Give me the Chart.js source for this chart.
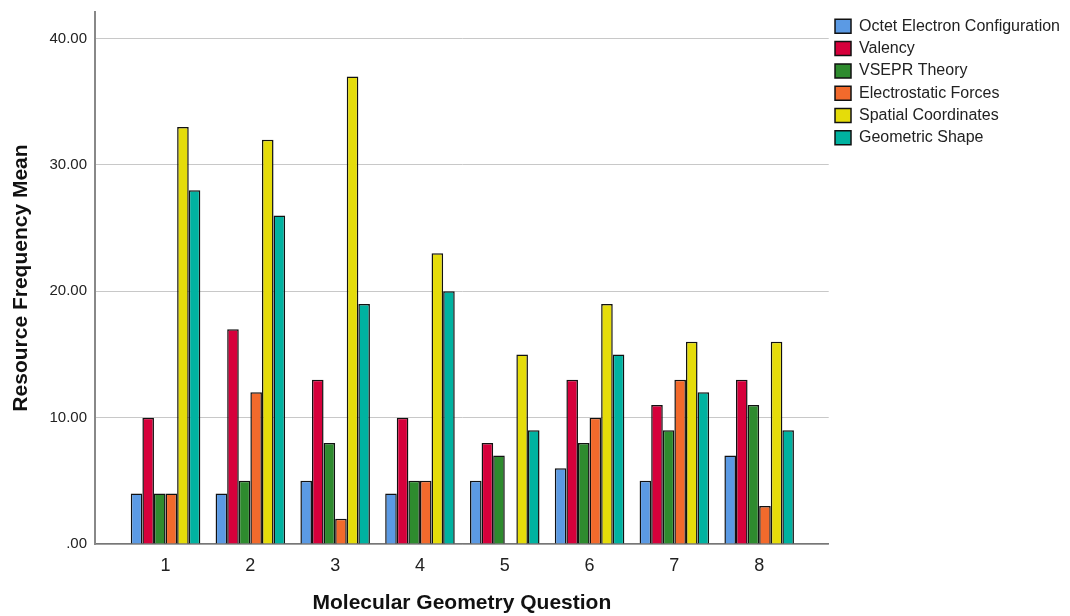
<!DOCTYPE html>
<html>
<head>
<meta charset="utf-8">
<script src="https://cdn.jsdelivr.net/npm/chart.js@4/dist/chart.umd.min.js"></script>
<style>
  html, body { margin: 0; padding: 0; background: #fff; }
  #wrap { width: 1070px; height: 616px; }
</style>
</head>
<body>
<div id="wrap"><canvas id="chart"></canvas></div>
<script>
// 設問番号
const questions = [1, 2, 3, 4, 5, 6, 7, 8];

// 各リソースの平均頻度
const octet = [4, 4, 5, 4, 5, 6, 5, 7];
const valency = [10, 17, 13, 10, 8, 13, 11, 13];
const vsepr = [4, 5, 8, 5, 7, 8, 9, 11];
const electrostatic = [4, 12, 2, 5, 0, 10, 13, 3];
const spatial = [33, 32, 37, 23, 15, 19, 16, 16];
const geometric = [28, 26, 19, 20, 9, 15, 12, 9];

const yTicks = [0, 10, 20, 30, 40];

const FONT = 'Arial, "Liberation Sans", sans-serif';

function ds(label, data, color) {
  return {
    label,
    data,
    backgroundColor: color,
    borderColor: '#111',
    borderWidth: 1.5,
    categoryPercentage: 0.82,
    barPercentage: 1.0
  };
}

const ctx = document.getElementById('chart').getContext('2d');
new Chart(ctx, {
  type: 'bar',
  data: {
    labels: questions,
    datasets: [
      ds('Octet Electron Configuration', octet, '#5b9ae4'),
      ds('Valency', valency, '#d6003b'),
      ds('VSEPR Theory', vsepr, '#2e8b2e'),
      ds('Electrostatic Forces', electrostatic, '#f26a2c'),
      ds('Spatial Coordinates', spatial, '#e5dc0a'),
      ds('Geometric Shape', geometric, '#00b2a0')
    ]
  },
  options: {
    responsive: true,
    maintainAspectRatio: false,
    animation: false,
    layout: { padding: { top: 12, left: 0, right: 0, bottom: 0 } },
    plugins: {
      legend: {
        position: 'right',
        align: 'start',
        labels: {
          boxWidth: 16,
          boxHeight: 14,
          padding: 6.3,
          color: '#222',
          font: { family: FONT, size: 16 }
        }
      },
      tooltip: { enabled: false }
    },
    scales: {
      x: {
        type: 'linear',
        offset: false,
        min: 0.168,
        max: 8.82,
        grid: { display: false, drawTicks: false },
        border: { display: true, color: '#777', width: 1.5 },
        afterBuildTicks: scale => { scale.ticks = questions.map(v => ({ value: v })); },
        afterFit: scale => {
          scale.height = 72;
          scale.paddingLeft = 0;
          scale.paddingRight = 0;
        },
        ticks: {
          padding: 11,
          color: '#222',
          font: { family: FONT, size: 18 },
          callback: v => String(v)
        },
        title: {
          display: true,
          text: 'Molecular Geometry Question',
          color: '#111',
          font: { family: FONT, size: 21, weight: 'bold' },
          padding: { top: 0, bottom: 0 }
        }
      },
      y: {
        min: 0,
        max: 42.1,
        afterBuildTicks: scale => { scale.ticks = yTicks.map(v => ({ value: v })); },
        afterFit: scale => {
          scale.width = 95;
          scale.paddingTop = 0;
          scale.paddingBottom = 0;
        },
        grid: { color: '#c8c8c8', lineWidth: 1, drawTicks: false },
        border: { display: true, color: '#888', width: 2 },
        ticks: {
          padding: 8,
          color: '#222',
          font: { family: FONT, size: 15 },
          callback: v => v === 0 ? '.00' : v.toFixed(2)
        },
        title: {
          display: true,
          text: 'Resource Frequency Mean',
          color: '#111',
          font: { family: FONT, size: 21, weight: 'bold' },
          padding: { top: 9, bottom: 0 }
        }
      }
    }
  }
});
</script>
</body>
</html>
